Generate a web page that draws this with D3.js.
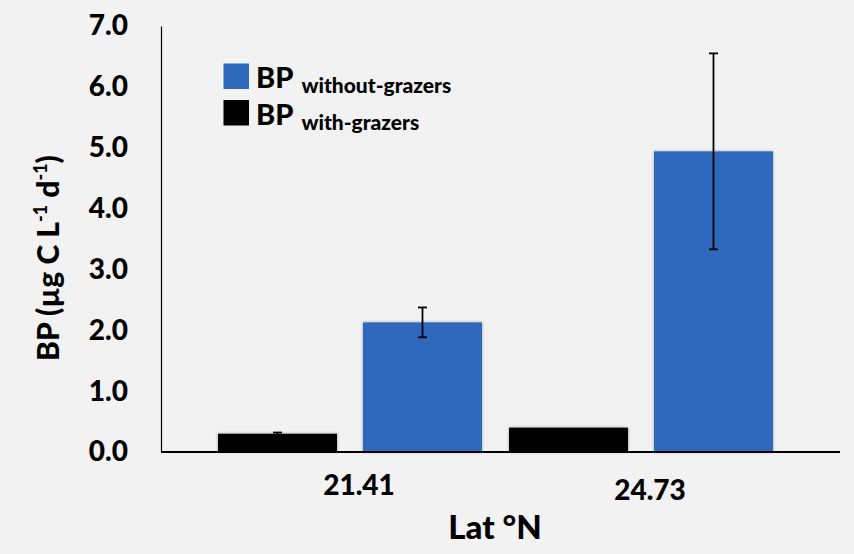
<!DOCTYPE html>
<html><head><meta charset="utf-8">
<script src="https://cdn.jsdelivr.net/npm/d3@7"></script>
<style>
html,body{margin:0;padding:0;background:#f2f2f2;}
svg{display:block;font-family:Lato,"Open Sans",sans-serif;font-weight:900;}
</style></head>
<body>
<svg id="chart" width="854" height="554"></svg>
<script>
const categories = ["21.41", "24.73"];
const seriesNames = ["with-grazers", "without-grazers"];
const withGrazers = [0.30, 0.40];
const withGrazersErr = [0.02, 0.0];
const withoutGrazers = [2.13, 4.94];
const withoutGrazersErr = [0.245, 1.61];
const yTicks = [0, 1, 2, 3, 4, 5, 6, 7];
const colors = {"with-grazers": "#000000", "without-grazers": "#2F69BD"};

const svg = d3.select("#chart");
svg.append("rect").attr("width", 854).attr("height", 554).attr("fill", "#f2f2f2");

const defs = svg.append("defs");
const f = defs.append("filter").attr("id", "sh").attr("x", "-10%").attr("y", "-10%").attr("width", "120%").attr("height", "120%");
f.append("feDropShadow").attr("dx", 0).attr("dy", 0).attr("stdDeviation", 1.6).attr("flood-color", "#000").attr("flood-opacity", 0.35);

const y = d3.scaleLinear().domain([0, 7]).range([452, 26]);
const x0 = d3.scaleBand().domain(categories).range([204.5, 786.5]).padding(0);
const x1 = d3.scaleBand().domain(seriesNames).range([13.5, 277.5]).paddingInner(0.179).paddingOuter(0);

const data = categories.map((c, i) => ({
  cat: c,
  bars: [
    {s: "with-grazers", v: withGrazers[i], e: withGrazersErr[i]},
    {s: "without-grazers", v: withoutGrazers[i], e: withoutGrazersErr[i]}
  ]
}));

// y axis
const yAxis = d3.axisLeft(y).tickValues(yTicks).tickFormat(d3.format(".1f")).tickSize(0).tickPadding(33);
const gy = svg.append("g").attr("transform", "translate(161,0)").call(yAxis);
gy.select(".domain").attr("stroke", "#000").attr("stroke-width", 1.2);
gy.selectAll("text").attr("font-size", 28).attr("font-family", "Lato").attr("font-weight", 900).attr("fill", "#000");

// bars
const groups = svg.append("g").selectAll("g").data(data).join("g")
  .attr("transform", d => `translate(${x0(d.cat)},0)`);
groups.selectAll("rect").data(d => d.bars).join("rect")
  .attr("x", d => x1(d.s))
  .attr("width", x1.bandwidth())
  .attr("y", d => y(d.v))
  .attr("height", d => y(0) - y(d.v))
  .attr("fill", d => colors[d.s])
  .attr("filter", "url(#sh)");

// error bars
const eb = groups.selectAll("g.err").data(d => d.bars.filter(b => b.e > 0)).join("g").attr("class", "err");
eb.append("line")
  .attr("x1", d => x1(d.s) + x1.bandwidth() / 2).attr("x2", d => x1(d.s) + x1.bandwidth() / 2)
  .attr("y1", d => y(d.v + d.e)).attr("y2", d => y(d.v - d.e))
  .attr("stroke", "#000").attr("stroke-width", 1.8);
[1, -1].forEach(sign => {
  eb.append("line")
    .attr("x1", d => x1(d.s) + x1.bandwidth() / 2 - 4.5).attr("x2", d => x1(d.s) + x1.bandwidth() / 2 + 4.5)
    .attr("y1", d => y(d.v + sign * d.e)).attr("y2", d => y(d.v + sign * d.e))
    .attr("stroke", "#000").attr("stroke-width", 1.8);
});

// x axis baseline
svg.append("line").attr("x1", 161).attr("x2", 840).attr("y1", y(0)).attr("y2", y(0))
  .attr("stroke", "#000").attr("stroke-width", 2.2);

// x axis labels
const xAxis = d3.axisBottom(x0).tickSize(0).tickPadding(0);
const gx = svg.append("g").attr("transform", `translate(0,${y(0)})`).call(xAxis);
gx.select(".domain").remove();
gx.selectAll("text").attr("font-size", 28).attr("font-family", "Lato").attr("font-weight", 900).attr("fill", "#000")
  .attr("dx", 9).attr("dy", (d, i) => i === 0 ? 43 : 48);

// x title
svg.append("text").attr("x", 495).attr("y", 539).attr("text-anchor", "middle")
  .attr("font-size", 33).attr("fill", "#000").text("Lat °N");

// y title
const yt = svg.append("text").attr("transform", "translate(59,258) rotate(-90)").attr("text-anchor", "middle")
  .attr("font-size", 30).attr("fill", "#000");
yt.append("tspan").text("BP (µg C L");
yt.append("tspan").attr("font-size", 18).attr("dy", -12).text("-1");
yt.append("tspan").attr("dy", 12).text(" d");
yt.append("tspan").attr("font-size", 18).attr("dy", -12).text("-1");
yt.append("tspan").attr("dy", 12).text(")");

// legend
const legendItems = [
  {s: "without-grazers", yTop: 63.5},
  {s: "with-grazers", yTop: 100}
];
const lg = svg.append("g");
legendItems.forEach(it => {
  lg.append("rect").attr("x", 223.5).attr("y", it.yTop).attr("width", 25.5).attr("height", 25.5)
    .attr("fill", colors[it.s]);
  const t = lg.append("text").attr("x", 256).attr("y", it.yTop + 24.5).attr("fill", "#000");
  t.append("tspan").attr("font-size", 29).text("BP");
  t.append("tspan").attr("font-size", 21).attr("dx", 8).attr("dy", 5).text(it.s);
});
</script>
</body></html>
